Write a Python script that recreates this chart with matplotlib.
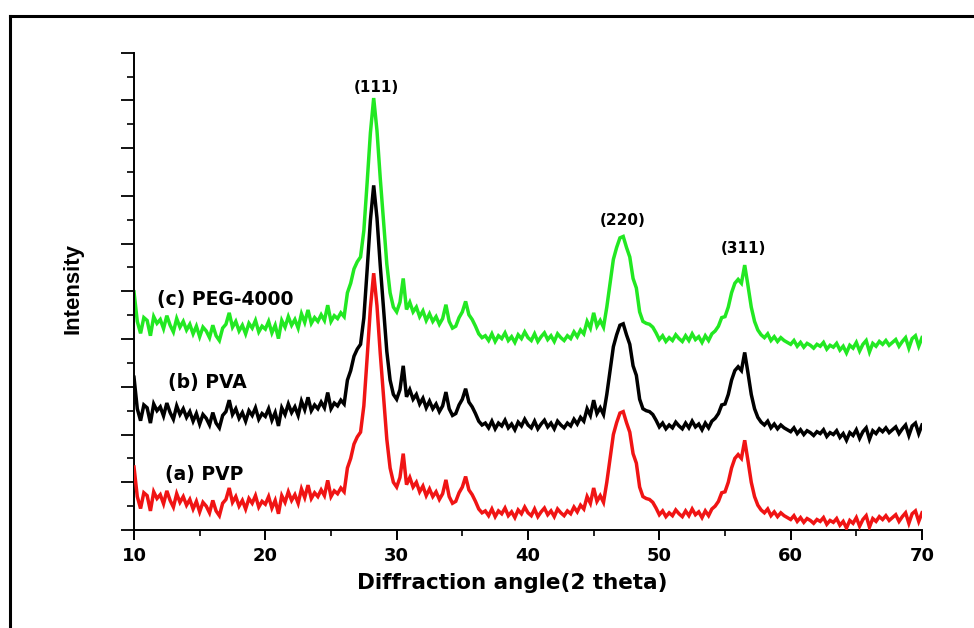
import numpy as np
import matplotlib
matplotlib.use("Agg")
import matplotlib.pyplot as plt
from matplotlib.lines import Line2D
from matplotlib.ticker import MultipleLocator, NullFormatter

# 2-theta grid (degrees)
two_theta = np.arange(10.0, 70.0 + 0.125, 0.25)

# Displayed (stacked) intensities, arbitrary units
pvp = [132, 70, 45, 78, 72, 40, 80, 66, 74, 55, 82, 62, 48, 76, 58, 70,
       52, 64, 44, 60, 38, 58, 50, 36, 62, 40, 30, 56, 64, 88, 58, 70,
       50, 62, 44, 66, 56, 72, 48, 60, 54, 70, 46, 62, 34, 72, 58, 80,
       62, 74, 56, 86, 68, 94, 66, 78, 70, 84, 72, 104, 70, 82, 76, 88,
       80, 130, 150, 180, 195, 205, 260, 360, 465, 538, 470, 370,
       280, 190, 130, 100, 90, 110, 160, 95, 110, 90, 100, 80,
       92, 72, 86, 70, 80, 64, 76, 105, 70, 56, 60, 78, 90, 112, 84, 74,
       60, 44, 36, 40, 30, 44, 28, 40, 34, 46, 30, 38, 26, 42, 34, 48,
       36, 30, 44, 28, 38, 46, 32, 40, 28, 44, 36, 30, 40, 34, 48, 38,
       52, 44, 70, 56, 88, 60, 72, 58, 100, 150, 200, 225, 245, 248, 225, 205,
       160, 140, 90, 70, 66, 64, 58, 46, 32, 40, 28, 36, 30, 42, 34, 28,
       40, 30, 44, 32, 38, 26, 40, 30, 44, 50, 60, 78, 80, 100, 130, 150,
       158, 150, 188, 145, 100, 70, 52, 42, 36, 44, 30, 38, 28, 36, 30, 26,
       22, 30, 18, 26, 16, 24, 20, 14, 22, 18, 26, 12, 20, 16, 24, 10,
       18, 4, 20, 14, 26, 8, 22, 30, 6, 24, 18, 28, 22, 30, 20, 26,
       32, 18, 28, 36, 14, 34, 40, 18, 36]

pva = [320, 254, 229, 262, 256, 224, 264, 250, 258, 239, 266, 246, 232, 260, 242, 254,
       236, 248, 228, 244, 222, 242, 234, 220, 246, 224, 214, 240, 248, 272, 242, 254,
       234, 246, 228, 250, 240, 256, 232, 244, 238, 254, 230, 246, 218, 256, 242, 264,
       246, 258, 240, 270, 252, 278, 250, 262, 254, 268, 256, 288, 254, 266, 260, 272,
       264, 314, 334, 364, 379, 389, 444, 544, 649, 722, 654, 554,
       464, 374, 314, 284, 274, 294, 344, 279, 294, 274, 284, 264,
       276, 256, 270, 254, 264, 248, 260, 289, 254, 240, 244, 262, 274, 296, 268, 258,
       244, 228, 220, 224, 214, 228, 212, 224, 218, 230, 214, 222, 210, 226, 218, 232,
       220, 214, 228, 212, 222, 230, 216, 224, 212, 228, 220, 214, 224, 218, 232, 222,
       236, 228, 254, 240, 272, 244, 256, 242, 284, 334, 384, 409, 429, 432, 409, 389,
       344, 324, 274, 254, 250, 248, 242, 230, 216, 224, 212, 220, 214, 226, 218, 212,
       224, 214, 228, 216, 222, 210, 224, 214, 228, 234, 244, 262, 264, 284, 314, 334,
       342, 334, 372, 329, 284, 254, 236, 226, 220, 228, 214, 222, 212, 220, 214, 210,
       206, 214, 202, 210, 200, 208, 204, 198, 206, 202, 210, 196, 204, 200, 208, 194,
       202, 188, 204, 198, 210, 192, 206, 214, 190, 208, 202, 212, 206, 214, 204, 210,
       216, 202, 212, 220, 198, 218, 224, 202, 220]

peg = [499, 437, 412, 445, 439, 407, 447, 433, 441, 422, 449, 429, 415, 443, 425, 437,
       419, 431, 411, 427, 405, 425, 417, 403, 429, 407, 397, 423, 431, 455, 425, 437,
       417, 429, 411, 433, 423, 439, 415, 427, 421, 437, 413, 429, 401, 439, 425, 447,
       429, 441, 423, 453, 435, 461, 433, 445, 437, 451, 439, 471, 437, 449, 443, 455,
       447, 497, 517, 547, 562, 572, 627, 727, 832, 905, 837, 737,
       647, 557, 497, 467, 457, 477, 527, 462, 477, 457, 467, 447,
       459, 439, 453, 437, 447, 431, 443, 472, 437, 423, 427, 445, 457, 479, 451, 441,
       427, 411, 403, 407, 397, 411, 395, 407, 401, 413, 397, 405, 393, 409, 401, 415,
       403, 397, 411, 395, 405, 413, 399, 407, 395, 411, 403, 397, 407, 401, 415, 405,
       419, 411, 437, 423, 455, 427, 439, 425, 467, 517, 567, 592, 612, 615, 592, 572,
       527, 507, 457, 437, 433, 431, 425, 413, 399, 407, 395, 403, 397, 409, 401, 395,
       407, 397, 411, 399, 405, 393, 407, 397, 411, 417, 427, 445, 447, 467, 497, 517,
       525, 517, 555, 512, 467, 437, 419, 409, 403, 411, 397, 405, 395, 403, 397, 393,
       389, 397, 385, 393, 383, 391, 387, 381, 389, 385, 393, 379, 387, 383, 391, 377,
       385, 371, 387, 381, 393, 375, 389, 397, 373, 391, 385, 395, 389, 397, 387, 393,
       399, 385, 395, 403, 381, 401, 407, 385, 403]

series_names = ["(a) PVP", "(b) PVA", "(c) PEG-4000"]
series_colors = ["#f01414", "#000000", "#22e822"]
peak_labels = ["(111)", "(220)", "(311)"]
x_ticks = [10, 20, 30, 40, 50, 60, 70]

W, H = 974, 628
fig = plt.figure(figsize=(W / 100, H / 100), dpi=100)
fig.patch.set_facecolor("white")

ax_l, ax_r, ax_b, ax_t = 134, 922, 530, 52.7
ax = fig.add_axes([ax_l / W, 1 - ax_b / H, (ax_r - ax_l) / W, (ax_b - ax_t) / H])

# draw green first, red on top
for data, col, z in [(peg, series_colors[2], 2), (pva, series_colors[1], 3), (pvp, series_colors[0], 4)]:
    ax.plot(two_theta, data, color=col, lw=2.5, zorder=z, solid_joinstyle="miter")

ax.set_xlim(10, 70)
ax.set_ylim(0, 1000)

for s in ["top", "right"]:
    ax.spines[s].set_visible(False)
for s in ["left", "bottom"]:
    ax.spines[s].set_linewidth(1.4)

ax.set_xticks(x_ticks)
ax.xaxis.set_minor_locator(MultipleLocator(5))
ax.yaxis.set_major_locator(MultipleLocator(100))
ax.yaxis.set_minor_locator(MultipleLocator(50))
ax.yaxis.set_major_formatter(NullFormatter())
ax.tick_params(axis="x", which="major", direction="out", length=7, width=1.4, pad=5,
               labelsize=13)
ax.tick_params(axis="x", which="minor", direction="out", length=4, width=1.2)
ax.tick_params(axis="y", which="major", direction="out", length=9.5, width=1.3)
ax.tick_params(axis="y", which="minor", direction="out", length=5, width=1.2)
for lab in ax.get_xticklabels():
    lab.set_fontweight("bold")
    lab.set_fontfamily("DejaVu Sans")

# peak labels
ax.text(28.47, 927, peak_labels[0], ha="center", va="center", fontsize=11, fontweight="bold")
ax.text(47.23, 649, peak_labels[1], ha="center", va="center", fontsize=11, fontweight="bold")
ax.text(56.41, 589, peak_labels[2], ha="center", va="center", fontsize=11, fontweight="bold")

# series labels
ax.text(11.75, 482, series_names[2], ha="left", va="center", fontsize=13.5, fontweight="bold")
ax.text(12.59, 310, series_names[1], ha="left", va="center", fontsize=13.5, fontweight="bold")
ax.text(12.36, 117, series_names[0], ha="left", va="center", fontsize=13.5, fontweight="bold")

# axis titles
fig.text(512 / W, 1 - 583 / H, "Diffraction angle(2 theta)", ha="center", va="center",
         fontsize=15.5, fontweight="bold")
fig.text(73 / W, 1 - 288 / H, "Intensity", ha="center", va="center", rotation=90,
         fontsize=16, fontweight="bold", family=["Liberation Sans", "DejaVu Sans"])

# outer frame (left and top edges visible)
fig.add_artist(Line2D([9.5 / W, 9.5 / W], [0, 1 - 15.5 / H], transform=fig.transFigure,
                      color="black", lw=2.2))
fig.add_artist(Line2D([9.5 / W, 1.0], [1 - 15.5 / H, 1 - 15.5 / H], transform=fig.transFigure,
                      color="black", lw=2.2))

fig.savefig("out.png", dpi=100, facecolor="white")
